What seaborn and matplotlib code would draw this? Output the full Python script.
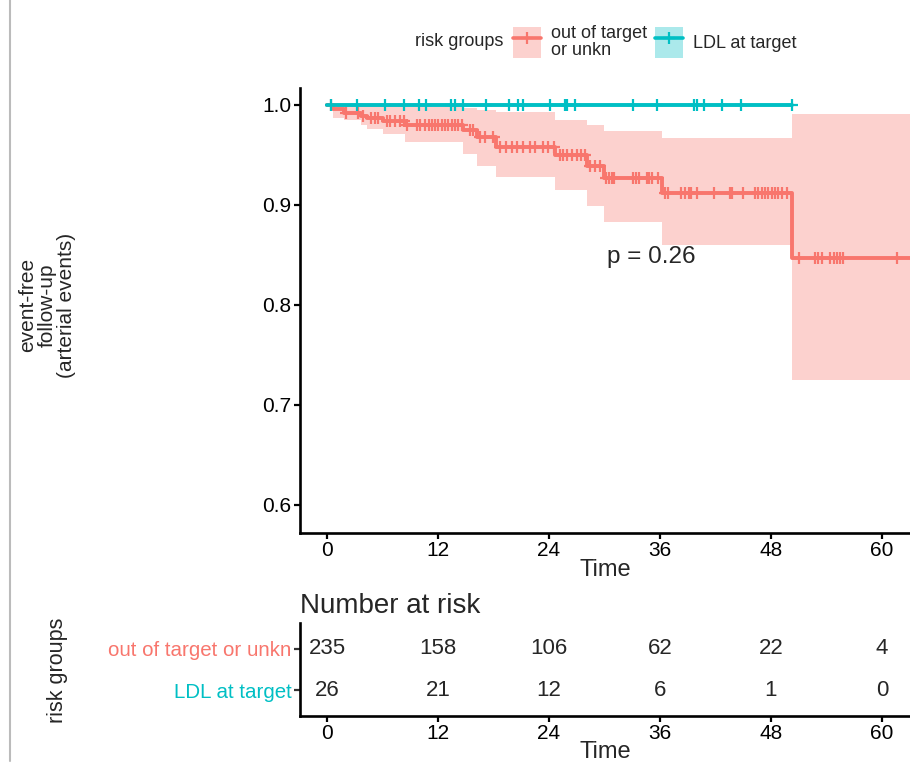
import numpy as np
import pandas as pd
import matplotlib
matplotlib.use("Agg")
import matplotlib.pyplot as plt
import seaborn as sns
from matplotlib.patches import Patch
from matplotlib.lines import Line2D
from matplotlib.legend_handler import HandlerTuple

# ---------------- data ----------------
groups = ["out of target or unkn", "LDL at target"]
legend_labels = ["out of target\nor unkn", "LDL at target"]
colors = ["#F8766D", "#00BFC4"]

out_times = [0, 0.7, 1.8, 3.7, 4.3, 6.1, 8.4, 14.7, 16.2, 18.3, 24.6, 28.1, 30.0, 36.2, 50.3]
out_surv = [1.0, 0.996, 0.992, 0.989, 0.987, 0.984, 0.980, 0.975, 0.968, 0.958, 0.950, 0.939, 0.927, 0.912, 0.847]
out_lower = [1.0, 0.987, 0.985, 0.980, 0.976, 0.971, 0.963, 0.951, 0.939, 0.928, 0.915, 0.899, 0.883, 0.860, 0.725]
out_upper = [1.0, 1.0, 1.0, 1.0, 1.0, 0.999, 0.998, 0.997, 0.995, 0.993, 0.985, 0.980, 0.974, 0.967, 0.991]
out_end = 64.0
out_censor = [0.4, 2.1, 3.4, 3.9, 4.8, 5.2, 5.5, 6.5, 6.8, 7.4, 7.9, 8.3, 8.6, 9.7, 10.1, 10.6,
              11.0, 11.3, 11.7, 12.0, 12.4, 12.8, 13.1, 13.5, 13.8, 14.2, 14.6, 15.5, 15.8, 16.5,
              17.1, 18.0, 18.7, 19.4, 20.0, 20.5, 21.2, 21.9, 22.5, 23.4, 23.9, 24.5, 25.2, 25.5,
              25.9, 26.5, 27.0, 27.5, 27.9, 28.4, 29.0, 29.5, 30.2, 30.5, 30.8, 31.0, 33.1, 33.4,
              33.7, 34.6, 34.8, 35.1, 35.8, 36.5, 36.9, 38.3, 38.7, 39.1, 39.4, 40.0, 41.8, 43.6,
              43.8, 45.0, 46.3, 46.6, 47.0, 47.4, 47.7, 48.1, 48.4, 48.8, 49.2, 49.7, 51.0, 52.8,
              53.1, 53.5, 54.4, 54.8, 55.1, 55.5, 55.8, 61.6]

ldl_times = [0]
ldl_surv = [1.0]
ldl_end = 50.3
ldl_censor = [0.4, 3.2, 6.3, 8.3, 9.9, 10.7, 13.4, 13.8, 14.7, 17.2, 19.7, 20.6, 21.2, 24.1,
              25.7, 25.9, 26.8, 33.1, 35.7, 39.7, 40.0, 40.8, 42.7, 44.8, 50.3]

risk_times = [0, 12, 24, 36, 48, 60]
risk_out = [235, 158, 106, 62, 22, 4]
risk_ldl = [26, 21, 12, 6, 1, 0]

y_ticks = [0.6, 0.7, 0.8, 0.9, 1.0]
pval_text = "p = 0.26"

# ---------------- style ----------------
sns.set_theme(style="ticks")
plt.rcParams["font.family"] = ["Liberation Sans", "DejaVu Sans"]

W, H = 910, 769
fig = plt.figure(figsize=(W / 100, H / 100), dpi=100)
def fx(px): return px / W
def fy(py): return 1 - py / H

ax = fig.add_axes([fx(300), fy(533), fx(910) - fx(300), fy(88) - fy(533)])
ax2 = fig.add_axes([fx(300), fy(716), fx(910) - fx(300), fy(623) - fy(716)])

# step data frames
def step_df(times, surv, end, name):
    t = list(times) + [end]
    s = list(surv) + [surv[-1]]
    return pd.DataFrame({"time": t, "surv": s, "group": name})

curves = pd.concat([step_df(out_times, out_surv, out_end, groups[0]),
                    step_df(ldl_times, ldl_surv, ldl_end, groups[1])], ignore_index=True)

# ribbon
rt = list(out_times) + [out_end]
rl = list(out_lower) + [out_lower[-1]]
ru = list(out_upper) + [out_upper[-1]]
ax.fill_between(rt, rl, ru, step="post", color=colors[0], alpha=0.33, lw=0, zorder=1)

sns.lineplot(data=curves, x="time", y="surv", hue="group", hue_order=groups,
             palette=colors, drawstyle="steps-post", linewidth=2.8, legend=False,
             ax=ax, zorder=3, estimator=None, sort=False)

# censor marks
def surv_at(times, surv, ct):
    idx = np.searchsorted(np.array(times), np.array(ct), side="right") - 1
    return np.array(surv)[idx]

cens = pd.concat([
    pd.DataFrame({"time": out_censor, "surv": surv_at(out_times, out_surv, out_censor), "group": groups[0]}),
    pd.DataFrame({"time": ldl_censor, "surv": surv_at(ldl_times, ldl_surv, ldl_censor), "group": groups[1]}),
], ignore_index=True)
sns.scatterplot(data=cens, x="time", y="surv", hue="group", hue_order=groups, palette=colors,
                marker="+", s=75, linewidth=1.6, legend=False, ax=ax, zorder=4)

ax.set_xlim(-2.92, 63.03)
ax.set_ylim(0.572, 1.017)
ax.set_xticks(risk_times)
ax.set_yticks(y_ticks)
ax.set_yticklabels([f"{v:.1f}" for v in y_ticks])
ax.set_xlabel("Time", fontsize=17, labelpad=-1)
ax.set_ylabel("")
for a in (ax, ax2):
    for s in ("top", "right"):
        a.spines[s].set_visible(False)
    for s in ("left", "bottom"):
        a.spines[s].set_linewidth(1.9)
        a.spines[s].set_color("black")
    a.tick_params(axis="both", direction="out", length=4, width=1.6, color="black",
                  labelsize=15, labelcolor="black", pad=2)
    a.grid(False)
    a.set_facecolor("white")

ax.text(30.3, 0.848, pval_text, fontsize=17.5, ha="left", va="center")

fig.text(fx(47), fy(305), "event-free\nfollow-up\n(arterial events)", rotation=90,
         ha="center", va="center", fontsize=15, linespacing=1.0, multialignment="center")

# legend
handles = [(Patch(facecolor=c, alpha=0.33, edgecolor="none"),
            Line2D([0], [0], color=c, lw=2.6, marker="+", markersize=9, mew=1.6)) for c in colors]
leg = fig.legend(handles, legend_labels, ncol=2, loc="center left",
                 bbox_to_anchor=(fx(513), fy(42)), frameon=False, fontsize=13,
                 handler_map={tuple: HandlerTuple(ndivide=1, pad=0)},
                 handlelength=1.55, handleheight=2.25, handletextpad=0.55, columnspacing=0.45,
                 borderpad=0, borderaxespad=0, labelspacing=0.2)
for t in leg.get_texts():
    t.set_linespacing(0.95)
fig.text(fx(415), fy(42), "risk groups", fontsize=13, ha="left", va="center")

# risk table
for i, t in enumerate(risk_times):
    ax2.text(t, 2, str(risk_out[i]), ha="center", va="center", fontsize=16)
    ax2.text(t, 1, str(risk_ldl[i]), ha="center", va="center", fontsize=16)
ax2.set_xlim(-2.92, 63.03)
ax2.set_ylim(0.37, 2.63)
ax2.set_xticks(risk_times)
ax2.set_yticks([2, 1])
ax2.set_yticklabels(groups)
for lab, c in zip(ax2.get_yticklabels(), colors):
    lab.set_color(c)
    lab.set_fontsize(14.8)
ax2.tick_params(axis="y", color="#333333")
ax2.set_xlabel("Time", fontsize=17, labelpad=-2)
ax2.set_ylabel("")
ax2.set_title("Number at risk", loc="left", fontsize=20, pad=7)
fig.text(fx(58), fy(670), "risk groups", rotation=90, ha="center", va="center", fontsize=15.5)

# left border line
fig.add_artist(Line2D([fx(10), fx(10)], [0.01, 1.0], color="#BBBBBB", lw=1.5))

fig.savefig("out.png", dpi=100, facecolor="white")
